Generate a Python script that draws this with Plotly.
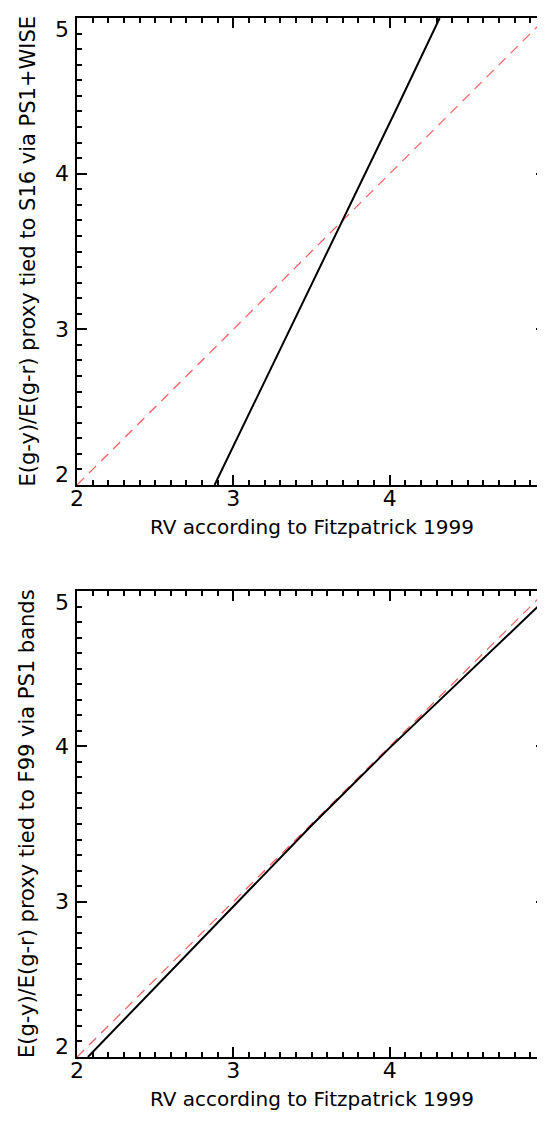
import plotly.graph_objects as go

# ---- data ----
ref_x = [2.0, 5.0]
ref_y = [2.0, 5.0]

top_x = [2.88, 3.30, 3.70, 4.05, 4.32]
top_y = [2.00, 2.87, 3.70, 4.43, 5.00]

bot_x = [2.07, 2.50, 3.00, 3.50, 4.00, 4.50, 5.00]
bot_y = [2.00, 2.45, 2.97, 3.49, 3.99, 4.47, 4.95]

tick_vals = [2, 3, 4, 5]
tick_text = ["2", "3", "4", "5"]

x_title = "RV according to Fitzpatrick 1999"
top_ytitle = "E(g-y)/E(g-r) proxy tied to S16 via PS1+WISE"
bot_ytitle = "E(g-y)/E(g-r) proxy tied to F99 via PS1 bands"

W, H = 545, 1121
FONT = "DejaVu Sans"
RED = "#ff5a5a"

fig = go.Figure()

for xa, ya, bx, by in [("x", "y", top_x, top_y), ("x2", "y2", bot_x, bot_y)]:
    fig.add_trace(go.Scatter(x=ref_x, y=ref_y, mode="lines", xaxis=xa, yaxis=ya,
                             line=dict(color=RED, width=1.2, dash="10px,7px"),
                             showlegend=False, hoverinfo="skip"))
    fig.add_trace(go.Scatter(x=bx, y=by, mode="lines", xaxis=xa, yaxis=ya,
                             line=dict(color="black", width=2),
                             showlegend=False, hoverinfo="skip"))

xdom = [69 / W, 538 / W]
top_dom = [1 - 477 / H, 1 - 10 / H]
bot_dom = [1 - 1049 / H, 1 - 583 / H]

common = dict(range=[2, 5], tickmode="linear", tick0=2, dtick=1,
              ticks="inside", ticklen=10, tickwidth=1.8, tickcolor="black",
              minor=dict(ticks="inside", ticklen=5, tickwidth=1.5, dtick=0.1,
                         tick0=2, tickcolor="black", showgrid=False),
              showline=True, linecolor="black", linewidth=2, mirror="allticks",
              showgrid=False, zeroline=False, automargin=False)

def xaxis(anchor):
    return dict(domain=xdom, anchor=anchor,
                tickfont=dict(family=FONT, size=22, color="black"),
                ticklabelstandoff=-7, **common)

def yaxis(dom, anchor):
    return dict(domain=dom, anchor=anchor, showticklabels=False, **common)

annotations = []
for yref, ydomref, ytitle, xdomref in [("y", "y domain", top_ytitle, "x domain"),
                                        ("y2", "y2 domain", bot_ytitle, "x2 domain")]:
    for v, t in zip(tick_vals, tick_text):
        shift = 11 if v == tick_vals[0] else (-11 if v == tick_vals[-1] else 0)
        annotations.append(dict(text=t, x=0, xref=xdomref, xanchor="right", xshift=-6,
                                y=v, yref=yref, yanchor="middle", yshift=shift,
                                showarrow=False,
                                font=dict(family=FONT, size=22, color="black")))
    annotations.append(dict(text=ytitle, textangle=-90, x=0, xref=xdomref, xshift=-50,
                            xanchor="center", y=0.5, yref=ydomref, yanchor="middle",
                            showarrow=False,
                            font=dict(family=FONT, size=21, color="black")))
    annotations.append(dict(text=x_title, x=0.5, xref=xdomref, xanchor="center",
                            y=0, yref=ydomref, yanchor="top", yshift=-28,
                            showarrow=False,
                            font=dict(family=FONT, size=20, color="black")))

fig.update_layout(
    width=W, height=H,
    margin=dict(l=0, r=0, t=0, b=0),
    paper_bgcolor="white", plot_bgcolor="white",
    xaxis=xaxis("y"), yaxis=yaxis(top_dom, "x"),
    xaxis2=xaxis("y2"), yaxis2=yaxis(bot_dom, "x2"),
    annotations=annotations,
    showlegend=False,
)

fig.write_html("out.html")
